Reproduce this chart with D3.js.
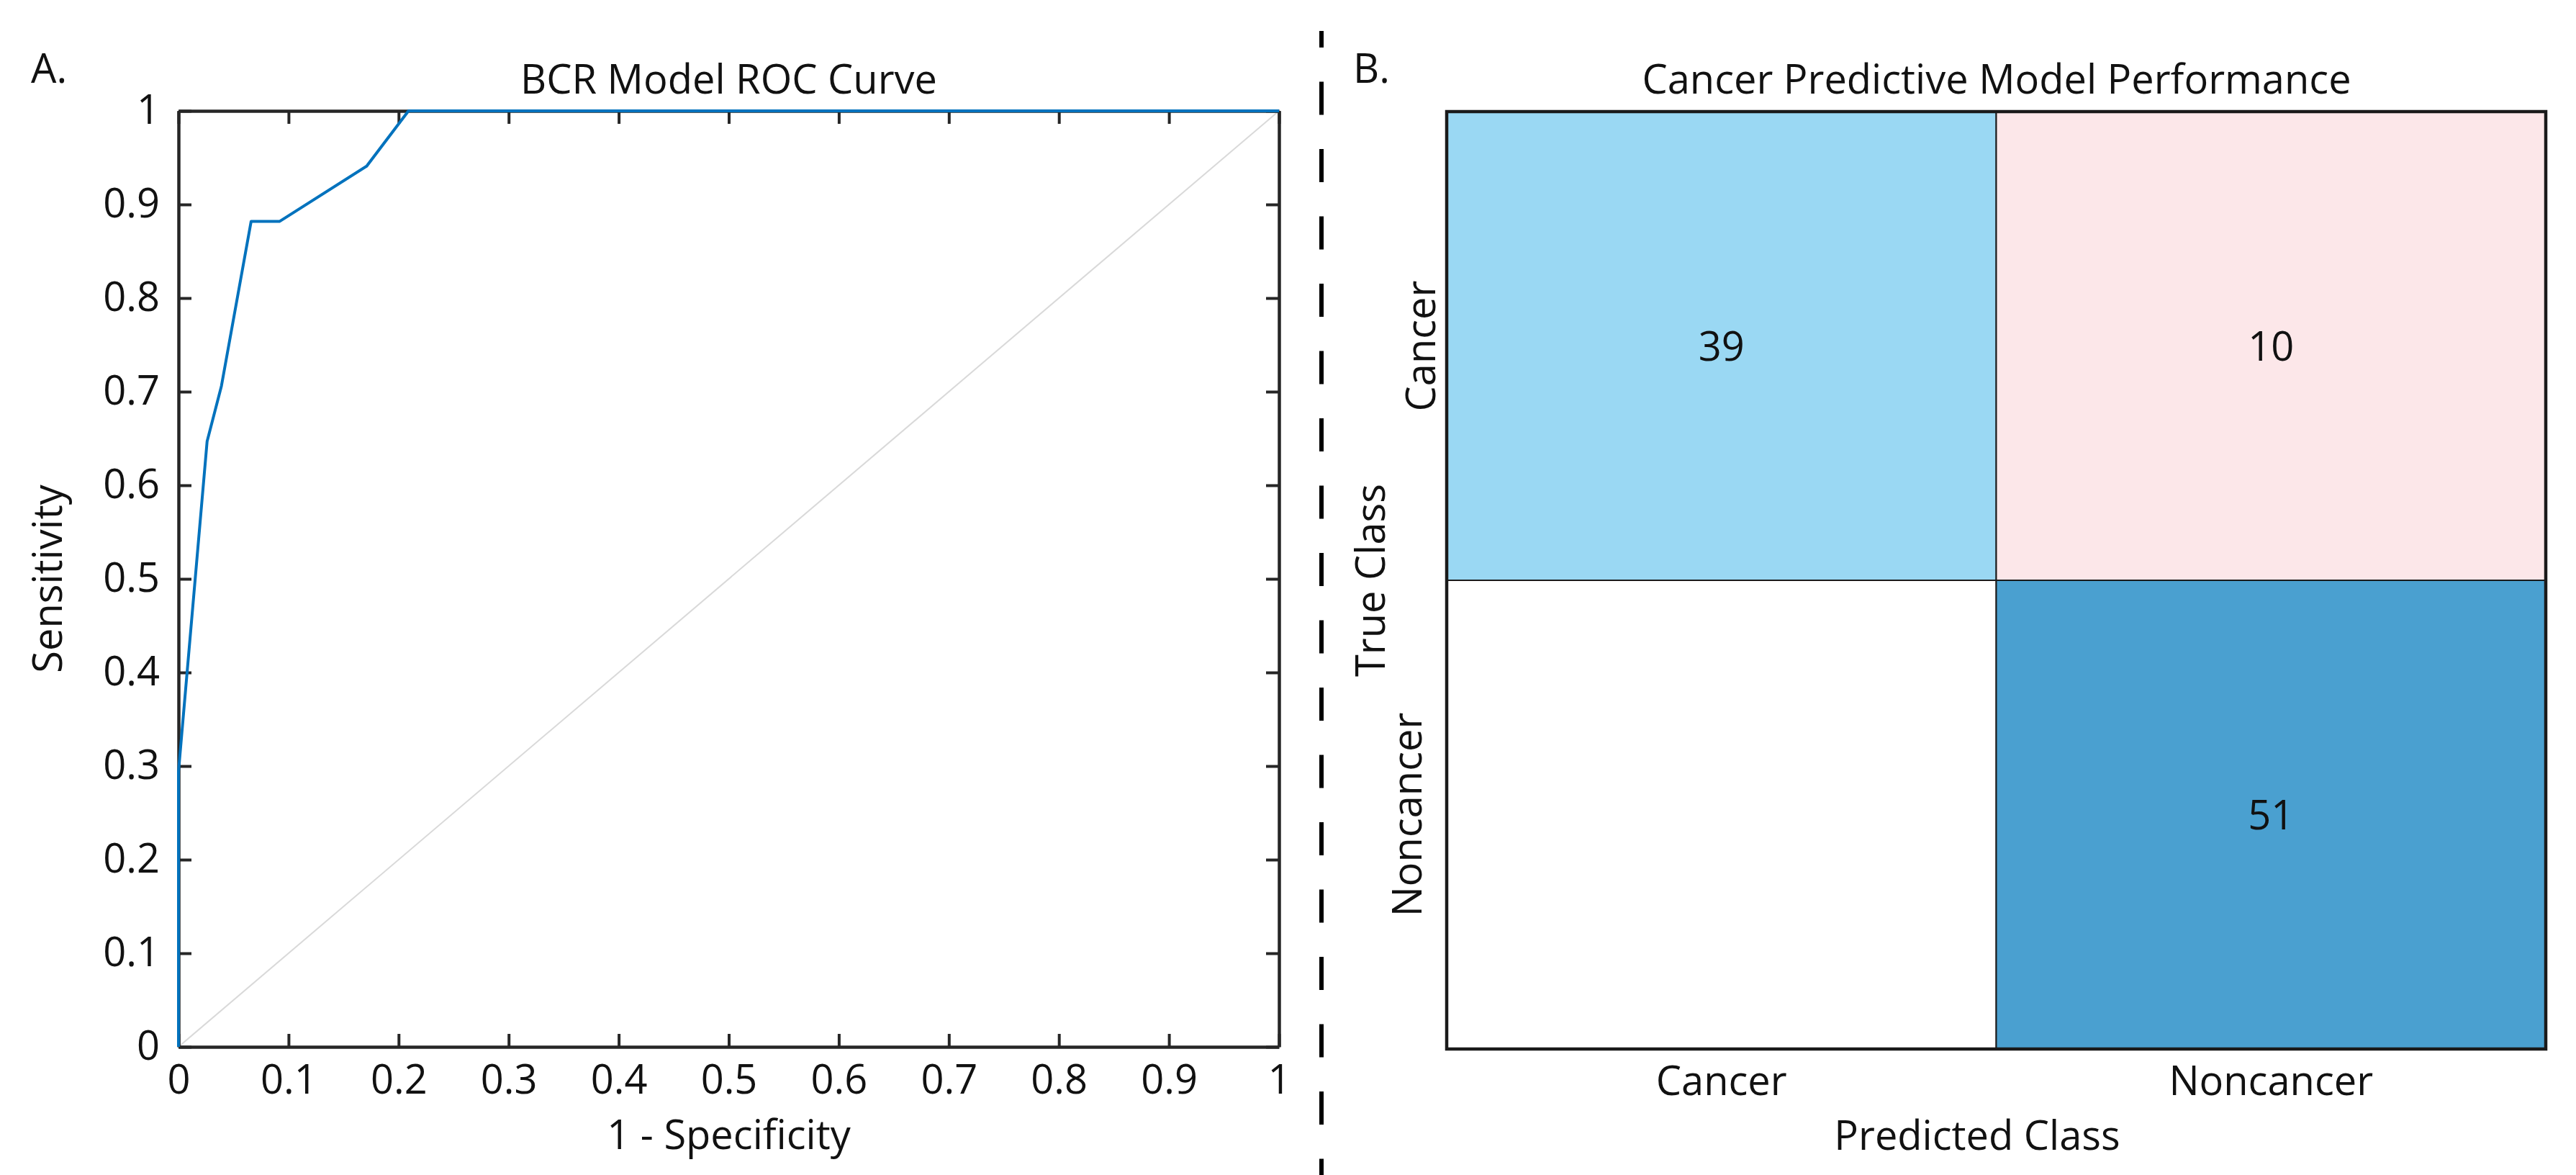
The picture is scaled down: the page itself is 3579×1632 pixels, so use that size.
<!DOCTYPE html>
<html>
<head>
<meta charset="utf-8">
<script src="https://cdn.jsdelivr.net/npm/d3@7"></script>
<style>
    body { margin: 0; background: #ffffff; }
    text { font-family: "Open Sans", "Noto Sans", sans-serif; fill: #111111; }
</style>
</head>
<body>
<script>
// ROC curve points (1 - specificity, sensitivity)
var rocFpr = [0, 0, 0.026, 0.039, 0.066, 0.092, 0.171, 0.209, 1];
var rocTpr = [0, 0.294, 0.647, 0.706, 0.882, 0.882, 0.941, 1, 1];
var chanceLine = [0, 1];
var rocTicks = [0, 0.1, 0.2, 0.3, 0.4, 0.5, 0.6, 0.7, 0.8, 0.9, 1];

// confusion matrix
var classes = ["Cancer", "Noncancer"];
var trueCancer = [39, 10];
var trueNoncancer = [0, 51];

var fontSize = 56;

function main() {
    var svg = d3.select("body")
        .append("svg")
        .attr("width", 3579)
        .attr("height", 1632);

    drawRoc(svg);
    drawDivider(svg);
    drawMatrix(svg);
}

function drawRoc(svg) {
    var x = d3.scaleLinear().domain([0, 1]).range([248, 1777]);
    var y = d3.scaleLinear().domain([0, 1]).range([1454, 154]);

    svg.append("text")
        .attr("x", 43).attr("y", 115)
        .style("font-size", fontSize + "px")
        .text("A.");

    svg.append("text")
        .attr("x", (x(0) + x(1)) / 2).attr("y", 130)
        .attr("text-anchor", "middle")
        .style("font-size", fontSize + "px")
        .text("BCR Model ROC Curve");

    // chance diagonal
    svg.append("path")
        .datum(chanceLine)
        .attr("d", d3.line().x(function (d) { return x(d); }).y(function (d) { return y(d); }))
        .attr("fill", "none")
        .attr("stroke", "#d9d9d9")
        .attr("stroke-width", 2);

    // box axes, ticks pointing in
    var axes = [
        { ax: d3.axisBottom(x), t: "translate(0," + y(0) + ")", lab: true },
        { ax: d3.axisTop(x), t: "translate(0," + y(1) + ")", lab: false },
        { ax: d3.axisLeft(y), t: "translate(" + x(0) + ",0)", lab: true },
        { ax: d3.axisRight(y), t: "translate(" + x(1) + ",0)", lab: false }
    ];
    axes.forEach(function (a) {
        a.ax.tickValues(rocTicks)
            .tickSizeInner(-18)
            .tickSizeOuter(0)
            .tickPadding(a.ax === axes[2].ax ? 26 : 25)
            .tickFormat(a.lab ? d3.format("~g") : "");
        var g = svg.append("g")
            .attr("transform", a.t)
            .call(a.ax);
        g.select(".domain").attr("stroke", "#262626").attr("stroke-width", 4.5);
        g.selectAll(".tick line").attr("stroke", "#262626").attr("stroke-width", 4);
        g.selectAll(".tick text")
            .attr("fill", "#111111")
            .style("font-family", "'Open Sans', sans-serif")
            .style("font-size", fontSize + "px");
    });

    // roc curve
    var pts = rocFpr.map(function (d, i) { return [d, rocTpr[i]]; });
    svg.append("path")
        .datum(pts)
        .attr("d", d3.line().x(function (d) { return x(d[0]); }).y(function (d) { return y(d[1]); }))
        .attr("fill", "none")
        .attr("stroke", "#0072bd")
        .attr("stroke-width", 4)
        .attr("stroke-linejoin", "round");

    svg.append("text")
        .attr("transform", "translate(86," + (y(0) + y(1)) / 2 + ")rotate(-90)")
        .attr("text-anchor", "middle")
        .style("font-size", fontSize + "px")
        .text("Sensitivity");

    svg.append("text")
        .attr("x", (x(0) + x(1)) / 2).attr("y", 1596)
        .attr("text-anchor", "middle")
        .style("font-size", fontSize + "px")
        .text("1 - Specificity");
}

function drawDivider(svg) {
    svg.append("line")
        .attr("x1", 1836).attr("x2", 1836)
        .attr("y1", 43).attr("y2", 1632)
        .attr("stroke", "#000000")
        .attr("stroke-width", 6)
        .attr("stroke-dasharray", "46 47.5")
        .attr("stroke-dashoffset", 23);
}

function drawMatrix(svg) {
    var x = d3.scaleBand().domain(classes).range([2010, 3537]);
    var y = d3.scaleBand().domain(classes).range([155, 1457]);
    var counts = [trueCancer, trueNoncancer];
    var fills = [["#9ad8f3", "#fce7e9"], ["#ffffff", "#4aa0d0"]];

    svg.append("text")
        .attr("x", 1880).attr("y", 115)
        .style("font-size", fontSize + "px")
        .text("B.");

    svg.append("text")
        .attr("x", 2774).attr("y", 130)
        .attr("text-anchor", "middle")
        .style("font-size", fontSize + "px")
        .text("Cancer Predictive Model Performance");

    var cells = [];
    classes.forEach(function (t, i) {
        classes.forEach(function (p, j) {
            cells.push({ t: t, p: p, v: counts[i][j], fill: fills[i][j] });
        });
    });

    svg.selectAll("rect.cell")
        .data(cells)
        .enter()
        .append("rect")
        .attr("class", "cell")
        .attr("x", function (d) { return x(d.p); })
        .attr("y", function (d) { return y(d.t); })
        .attr("width", x.bandwidth())
        .attr("height", y.bandwidth())
        .attr("fill", function (d) { return d.fill; })
        .attr("stroke", "#1a1a1a")
        .attr("stroke-width", 2);

    // outer frame
    svg.append("rect")
        .attr("x", x.range()[0]).attr("y", y.range()[0])
        .attr("width", x.range()[1] - x.range()[0])
        .attr("height", y.range()[1] - y.range()[0])
        .attr("fill", "none")
        .attr("stroke", "#1a1a1a")
        .attr("stroke-width", 4.5);

    svg.selectAll("text.count")
        .data(cells.filter(function (d) { return d.v > 0; }))
        .enter()
        .append("text")
        .attr("class", "count")
        .attr("x", function (d) { return x(d.p) + x.bandwidth() / 2; })
        .attr("y", function (d) { return y(d.t) + y.bandwidth() / 2 + 20; })
        .attr("text-anchor", "middle")
        .style("font-size", fontSize + "px")
        .text(function (d) { return d.v; });

    // predicted class labels
    svg.selectAll("text.xlab")
        .data(classes)
        .enter()
        .append("text")
        .attr("class", "xlab")
        .attr("x", function (d) { return x(d) + x.bandwidth() / 2; })
        .attr("y", 1521)
        .attr("text-anchor", "middle")
        .style("font-size", fontSize + "px")
        .text(function (d) { return d; });

    // true class labels
    var rowGap = [16, 35];
    svg.selectAll("text.ylab")
        .data(classes)
        .enter()
        .append("text")
        .attr("class", "ylab")
        .attr("transform", function (d, i) {
            return "translate(" + (x.range()[0] - rowGap[i]) + "," + (y(d) + y.bandwidth() / 2) + ")rotate(-90)";
        })
        .attr("text-anchor", "middle")
        .style("font-size", fontSize + "px")
        .text(function (d) { return d; });

    svg.append("text")
        .attr("x", 2747).attr("y", 1597)
        .attr("text-anchor", "middle")
        .style("font-size", fontSize + "px")
        .text("Predicted Class");

    svg.append("text")
        .attr("transform", "translate(1924," + (y.range()[0] + y.range()[1]) / 2 + ")rotate(-90)")
        .attr("text-anchor", "middle")
        .style("font-size", fontSize + "px")
        .text("True Class");
}

main();
</script>
</body>
</html>
